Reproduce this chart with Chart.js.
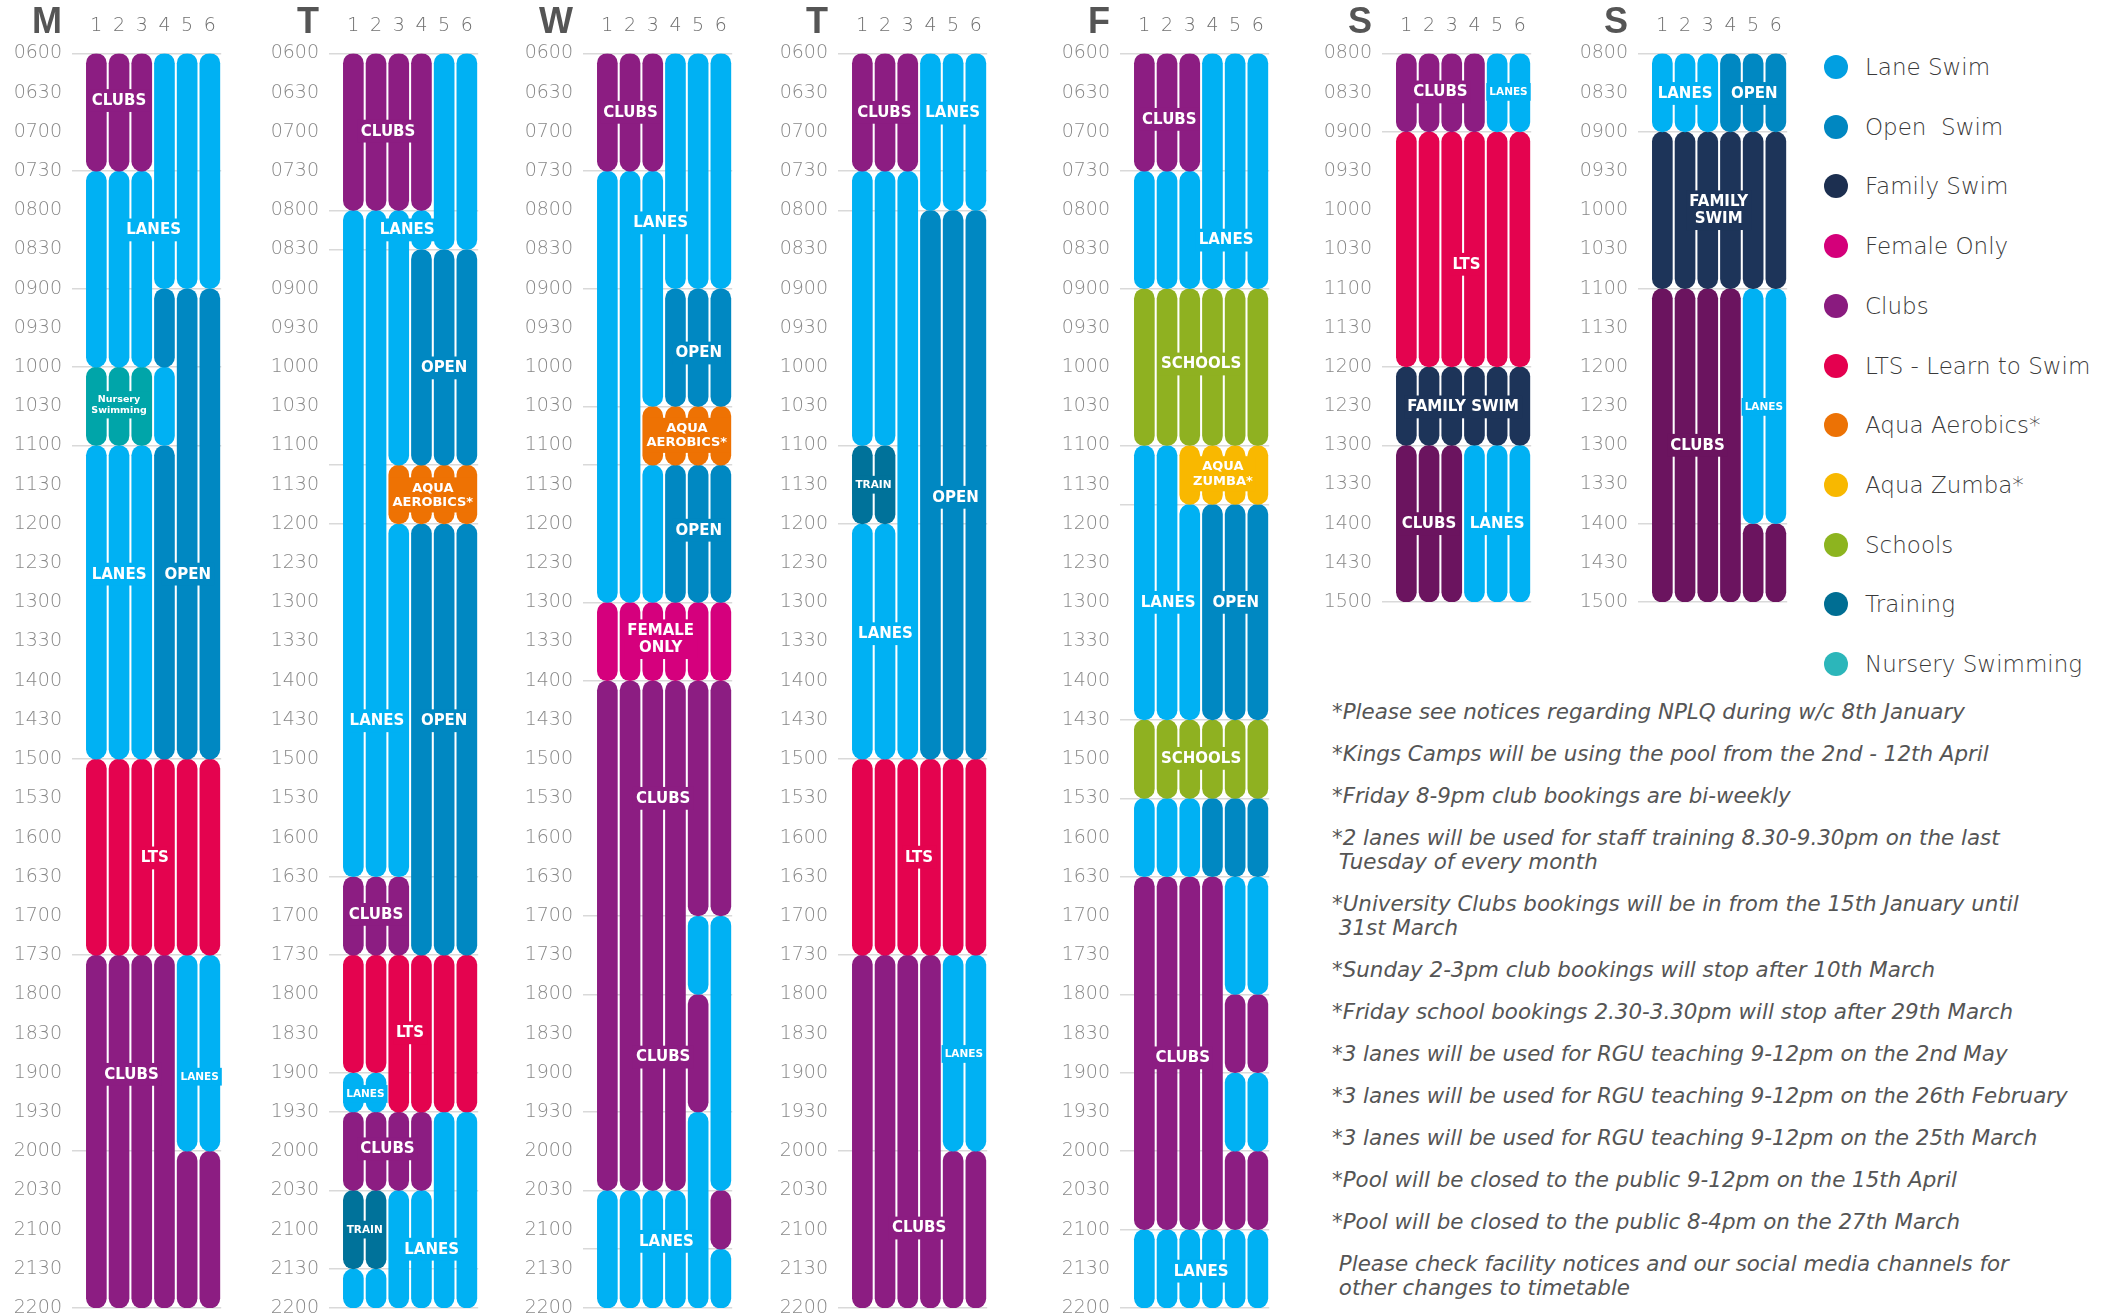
<!DOCTYPE html>
<html>
<head>
<meta charset="utf-8">
<script src="https://cdn.jsdelivr.net/npm/chart.js@4/dist/chart.umd.min.js"></script>
<style>
  body { margin: 0; background: #fff; }
  #page { position: relative; width: 2107px; height: 1314px; overflow: hidden; background: #fff; }
  canvas { position: absolute; top: 0; }
  .leg { position: absolute; left: 1824px; height: 24px; white-space: pre; }
  .leg i { position: absolute; left: 0; top: 0; width: 24px; height: 24px; border-radius: 50%; }
  .leg span { position: absolute; left: 41px; top: 12px; transform: translateY(-50%); font: 200 23px "DejaVu Sans"; color: #3a3a3a; }
  #notes { position: absolute; left: 1332px; top: 700px; font: italic 200 21.4px "DejaVu Sans"; color: #555; }
  #notes p { margin: 0 0 18px 0; line-height: 24px; white-space: pre; }
</style>
</head>
<body>
<div id="page">
  <canvas id="c0" width="220" height="1314"></canvas>
  <canvas id="c1" width="220" height="1314"></canvas>
  <canvas id="c2" width="220" height="1314"></canvas>
  <canvas id="c3" width="220" height="1314"></canvas>
  <canvas id="c4" width="220" height="1314"></canvas>
  <canvas id="c5" width="220" height="610"></canvas>
  <canvas id="c6" width="220" height="610"></canvas>
  <div id="legend"></div>
  <div id="notes"></div>
</div>
<script>
// ---- data ----
const dayNames = ['M', 'T', 'W', 'T', 'F', 'S', 'S'];
const laneNames = ['1', '2', '3', '4', '5', '6'];
const weekdayHours = [6, 22];
const weekendHours = [8, 15];

// blocks: [first lane, last lane, start hour, end hour, activity]
const monBlocks = [
    [1, 3, 6, 7.5, 'clubs'], [1, 3, 7.5, 10, 'lanes'], [1, 3, 10, 11, 'nursery'], [1, 3, 11, 15, 'lanes'],
    [4, 6, 6, 9, 'lanes'], [4, 4, 9, 10, 'open'], [4, 4, 10, 11, 'lanes'], [4, 4, 11, 15, 'open'],
    [5, 6, 9, 15, 'open'], [1, 6, 15, 17.5, 'lts'], [1, 4, 17.5, 22, 'clubs'],
    [5, 6, 17.5, 20, 'lanes'], [5, 6, 20, 22, 'clubs']
];
const tueBlocks = [
    [1, 4, 6, 8, 'clubs'], [5, 6, 6, 8.5, 'lanes'], [1, 2, 8, 16.5, 'lanes'], [3, 3, 8, 11.25, 'lanes'],
    [4, 4, 8, 8.5, 'lanes'], [4, 4, 8.5, 11.25, 'open'], [5, 6, 8.5, 11.25, 'open'], [3, 6, 11.25, 12, 'aqua'],
    [3, 3, 12, 16.5, 'lanes'], [4, 6, 12, 17.5, 'open'], [1, 3, 16.5, 17.5, 'clubs'],
    [1, 2, 17.5, 19, 'lts'], [3, 6, 17.5, 19.5, 'lts'], [1, 2, 19, 19.5, 'lanes'], [1, 4, 19.5, 20.5, 'clubs'],
    [5, 6, 19.5, 22, 'lanes'], [1, 2, 20.5, 21.5, 'train'], [1, 2, 21.5, 22, 'lanes'], [3, 4, 20.5, 22, 'lanes']
];
const wedBlocks = [
    [1, 3, 6, 7.5, 'clubs'], [4, 6, 6, 9, 'lanes'], [1, 2, 7.5, 13, 'lanes'], [3, 3, 7.5, 10.5, 'lanes'],
    [4, 6, 9, 10.5, 'open'], [3, 6, 10.5, 11.25, 'aqua'], [3, 3, 11.25, 13, 'lanes'], [4, 6, 11.25, 13, 'open'],
    [1, 6, 13, 14, 'female'], [1, 4, 14, 20.5, 'clubs'], [5, 6, 14, 17, 'clubs'],
    [5, 5, 17, 18, 'lanes'], [5, 5, 18, 19.5, 'clubs'], [5, 5, 19.5, 22, 'lanes'],
    [6, 6, 17, 20.5, 'lanes'], [6, 6, 20.5, 21.25, 'clubs'], [6, 6, 21.25, 22, 'lanes'], [1, 4, 20.5, 22, 'lanes']
];
const thuBlocks = [
    [1, 3, 6, 7.5, 'clubs'], [4, 6, 6, 8, 'lanes'], [4, 6, 8, 15, 'open'], [1, 2, 7.5, 11, 'lanes'],
    [1, 2, 11, 12, 'train'], [1, 2, 12, 15, 'lanes'], [3, 3, 7.5, 15, 'lanes'], [1, 6, 15, 17.5, 'lts'],
    [1, 4, 17.5, 22, 'clubs'], [5, 6, 17.5, 20, 'lanes'], [5, 6, 20, 22, 'clubs']
];
const friBlocks = [
    [1, 3, 6, 7.5, 'clubs'], [1, 3, 7.5, 9, 'lanes'], [4, 6, 6, 9, 'lanes'], [1, 6, 9, 11, 'schools'],
    [1, 2, 11, 14.5, 'lanes'], [3, 6, 11, 11.75, 'zumba'], [3, 3, 11.75, 14.5, 'lanes'], [4, 6, 11.75, 14.5, 'open'],
    [1, 6, 14.5, 15.5, 'schools'], [1, 3, 15.5, 16.5, 'lanes'], [4, 6, 15.5, 16.5, 'open'],
    [1, 4, 16.5, 21, 'clubs'], [5, 6, 16.5, 18, 'lanes'], [5, 6, 18, 19, 'clubs'], [5, 6, 19, 20, 'lanes'],
    [5, 6, 20, 21, 'clubs'], [1, 6, 21, 22, 'lanes']
];
const satBlocks = [
    [1, 4, 8, 9, 'clubs'], [5, 6, 8, 9, 'lanes'], [1, 6, 9, 12, 'lts'], [1, 6, 12, 13, 'family'],
    [1, 3, 13, 15, 'clubsDark'], [4, 6, 13, 15, 'lanes']
];
const sunBlocks = [
    [1, 3, 8, 9, 'lanes'], [4, 6, 8, 9, 'open'], [1, 6, 9, 11, 'family'],
    [1, 4, 11, 15, 'clubsDark'], [5, 6, 11, 14, 'lanes'], [5, 6, 14, 15, 'clubsDark']
];

// labels: [text, lane position, hour, activity, size]
const monLabels = [
    ['CLUBS', 2, 6.6, 'clubs', 'lg'], ['LANES', 3.52, 8.25, 'lanes', 'lg'],
    ['Nursery\nSwimming', 2, 10.48, 'nursery', 'xs'], ['LANES', 2, 12.64, 'lanes', 'lg'],
    ['OPEN', 5.03, 12.64, 'open', 'lg'], ['LTS', 3.57, 16.26, 'lts', 'lg'],
    ['CLUBS', 2.55, 19.02, 'clubs', 'lg'], ['LANES', 5.55, 19.05, 'lanes', 'sm']
];
const tueLabels = [
    ['CLUBS', 2.53, 6.99, 'clubs', 'lg'], ['LANES', 3.37, 8.25, 'lanes', 'lg'],
    ['OPEN', 5, 10.01, 'open', 'lg'], ['AQUA\nAEROBICS*', 4.5, 11.63, 'aqua', 'md'],
    ['LANES', 2.04, 14.51, 'lanes', 'lg'], ['OPEN', 5, 14.51, 'open', 'lg'],
    ['CLUBS', 2, 16.98, 'clubs', 'lg'], ['LTS', 3.5, 18.49, 'lts', 'lg'],
    ['LANES', 1.53, 19.27, 'lanes', 'sm'], ['CLUBS', 2.5, 19.97, 'clubs', 'lg'],
    ['TRAIN', 1.5, 21, 'train', 'sm'], ['LANES', 4.45, 21.25, 'lanes', 'lg']
];
const wedLabels = [
    ['CLUBS', 2.02, 6.75, 'clubs', 'lg'], ['LANES', 3.35, 8.16, 'lanes', 'lg'],
    ['OPEN', 5.03, 9.82, 'open', 'lg'], ['AQUA\nAEROBICS*', 4.5, 10.87, 'aqua', 'md'],
    ['OPEN', 5.03, 12.08, 'open', 'lg'], ['FEMALE\nONLY', 3.35, 13.47, 'female', 'lg'],
    ['CLUBS', 3.46, 15.5, 'clubs', 'lg'], ['CLUBS', 3.46, 18.8, 'clubs', 'lg'],
    ['LANES', 3.6, 21.15, 'lanes', 'lg']
];
const thuLabels = [
    ['CLUBS', 1.97, 6.75, 'clubs', 'lg'], ['LANES', 4.98, 6.76, 'lanes', 'lg'],
    ['TRAIN', 1.49, 11.5, 'train', 'sm'], ['OPEN', 5.1, 11.66, 'open', 'lg'],
    ['LANES', 2.02, 13.4, 'lanes', 'lg'], ['LTS', 3.5, 16.25, 'lts', 'lg'],
    ['LANES', 5.47, 18.76, 'lanes', 'sm'], ['CLUBS', 3.5, 20.98, 'clubs', 'lg']
];
const friLabels = [
    ['CLUBS', 2.1, 6.84, 'clubs', 'lg'], ['LANES', 4.6, 8.38, 'lanes', 'lg'],
    ['SCHOOLS', 3.5, 9.96, 'schools', 'lg'], ['AQUA\nZUMBA*', 4.46, 11.36, 'zumba', 'md'],
    ['LANES', 2.05, 13, 'lanes', 'lg'], ['OPEN', 5.03, 13, 'open', 'lg'],
    ['SCHOOLS', 3.5, 14.99, 'schools', 'lg'], ['CLUBS', 2.69, 18.81, 'clubs', 'lg'],
    ['LANES', 3.5, 21.53, 'lanes', 'lg']
];
const satLabels = [
    ['CLUBS', 2.5, 8.49, 'clubs', 'lg'], ['LANES', 5.5, 8.49, 'lanes', 'sm'],
    ['LTS', 3.65, 10.69, 'lts', 'lg'], ['FAMILY SWIM', 3.5, 12.51, 'family', 'lg'],
    ['CLUBS', 2, 14, 'clubsDark', 'lg'], ['LANES', 5, 14, 'lanes', 'lg']
];
const sunLabels = [
    ['LANES', 2, 8.51, 'lanes', 'lg'], ['OPEN', 5.05, 8.51, 'open', 'lg'],
    ['FAMILY\nSWIM', 3.48, 10, 'family', 'lg'], ['LANES', 5.47, 12.51, 'lanes', 'sm'],
    ['CLUBS', 2.55, 13, 'clubsDark', 'lg']
];

const legendNames = ['Lane Swim', 'Open  Swim', 'Family Swim', 'Female Only', 'Clubs', 'LTS - Learn to Swim',
    'Aqua Aerobics*', 'Aqua Zumba*', 'Schools', 'Training', 'Nursery Swimming'];

const notes = [
    '*Please see notices regarding NPLQ during w/c 8th January',
    '*Kings Camps will be using the pool from the 2nd - 12th April',
    '*Friday 8-9pm club bookings are bi-weekly',
    '*2 lanes will be used for staff training 8.30-9.30pm on the last\n Tuesday of every month',
    '*University Clubs bookings will be in from the 15th January until\n 31st March',
    '*Sunday 2-3pm club bookings will stop after 10th March',
    '*Friday school bookings 2.30-3.30pm will stop after 29th March',
    '*3 lanes will be used for RGU teaching 9-12pm on the 2nd May',
    '*3 lanes will be used for RGU teaching 9-12pm on the 26th February',
    '*3 lanes will be used for RGU teaching 9-12pm on the 25th March',
    '*Pool will be closed to the public 9-12pm on the 15th April',
    '*Pool will be closed to the public 8-4pm on the 27th March',
    ' Please check facility notices and our social media channels for\n other changes to timetable'
];

// ---- styles / layout ----
const colors = {
    lanes: '#00b1f3', open: '#0088c2', clubs: '#8c1d82', clubsDark: '#6b145f', lts: '#e4034f',
    nursery: '#00a5a9', aqua: '#ee7203', zumba: '#f9b800', schools: '#8fb121', train: '#00729a',
    family: '#1d3459', female: '#d5007d'
};
const legendColors = ['#019fe1', '#0087c1', '#1c2f50', '#d4007a', '#8a1b7f', '#e4004f',
    '#ec7205', '#f8b800', '#8db41f', '#006e93', '#2cb6ba'];
const labelFont = { lg: 15, md: 13, sm: 10.5, xs: 9.5 };
const panelLeft = [5, 262, 516, 771, 1053, 1315, 1571];
const allBlocks = [monBlocks, tueBlocks, wedBlocks, thuBlocks, friBlocks, satBlocks, sunBlocks];
const allLabels = [monLabels, tueLabels, wedLabels, thuLabels, friLabels, satLabels, sunLabels];

function hhmm(v) {
    var h = Math.floor(v), m = Math.round((v - h) * 60);
    return String(h).padStart(2, '0') + String(m).padStart(2, '0');
}

function buildDatasets(blocks) {
    var perLane = laneNames.map(function () { return []; });
    blocks.forEach(function (b) {
        for (var l = b[0]; l <= b[1]; l++) perLane[l - 1].push(b);
    });
    perLane.forEach(function (list) { list.sort(function (p, q) { return p[2] - q[2]; }); });
    var depth = Math.max.apply(null, perLane.map(function (l) { return l.length; }));
    var sets = [];
    for (var k = 0; k < depth; k++) {
        sets.push({
            data: perLane.map(function (l) { return l[k] ? [l[k][2], l[k][3]] : null; }),
            backgroundColor: perLane.map(function (l) { return l[k] ? colors[l[k][4]] : 'rgba(0,0,0,0)'; }),
            grouped: false,
            barThickness: 20,
            borderRadius: 12,
            borderSkipped: false
        });
    }
    return sets;
}

function timetablePlugin(day, labels) {
    return {
        id: 'timetable' + day,
        afterDatasetsDraw: function (chart) {
            var ctx = chart.ctx, xs = chart.scales.x, ys = chart.scales.y;
            ctx.save();
            ctx.textAlign = 'center';
            ctx.textBaseline = 'middle';
            labels.forEach(function (lb) {
                var fs = labelFont[lb[4]];
                var lines = lb[0].split('\n');
                var lh = fs * 1.12;
                ctx.font = 'bold ' + fs + 'px "DejaVu Sans"';
                var w = Math.max.apply(null, lines.map(function (t) { return ctx.measureText(t).width; }));
                var cx = xs.getPixelForValue(lb[1] - 1), cy = ys.getPixelForValue(lb[2]);
                var h = lines.length * lh;
                ctx.fillStyle = colors[lb[3]];
                ctx.fillRect(cx - w / 2 - 3, cy - h / 2 - 3, w + 6, h + 6);
                ctx.fillStyle = '#ffffff';
                lines.forEach(function (t, i) { ctx.fillText(t, cx, cy - h / 2 + lh * (i + 0.5) + 0.5); });
            });
            ctx.restore();
        },
        afterDraw: function (chart) {
            var ctx = chart.ctx;
            ctx.save();
            ctx.font = 'bold 36px "Liberation Sans"';
            ctx.fillStyle = '#555555';
            ctx.textAlign = 'right';
            ctx.textBaseline = 'alphabetic';
            ctx.fillText(dayNames[day], chart.chartArea.left - 23, 33);
            ctx.restore();
        }
    };
}

function makeDay(day) {
    var blocks = allBlocks[day];
    var hours = day >= 5 ? weekendHours : weekdayHours;
    var bounds = new Set();
    blocks.forEach(function (b) { bounds.add(b[2]); bounds.add(b[3]); });
    var cv = document.getElementById('c' + day);
    cv.style.left = panelLeft[day] + 'px';

    new Chart(cv, {
        type: 'bar',
        data: { labels: laneNames, datasets: buildDatasets(blocks) },
        options: {
            responsive: false,
            animation: false,
            events: [],
            layout: { padding: { left: 0, right: 3.8, top: 0, bottom: day >= 5 ? 8 : 6 } },
            plugins: { legend: { display: false }, tooltip: { enabled: false } },
            scales: {
                x: {
                    position: 'top',
                    grid: { display: false, drawTicks: false },
                    border: { display: false },
                    ticks: { color: '#707070', padding: 16, font: { family: 'DejaVu Sans', size: 19, weight: 200 } },
                    afterFit: function (s) { s.height = 53.5; s.paddingLeft = 0; s.paddingRight = 0; }
                },
                y: {
                    min: hours[0],
                    max: hours[1],
                    reverse: true,
                    border: { display: false },
                    grid: {
                        drawTicks: true,
                        tickLength: 13,
                        lineWidth: 1.5,
                        color: function (c) { return c.tick && bounds.has(c.tick.value) ? '#d9d9d9' : 'rgba(0,0,0,0)'; }
                    },
                    ticks: {
                        autoSkip: false,
                        padding: 10,
                        color: '#888888',
                        font: { family: 'DejaVu Sans', size: 19, weight: 200 },
                        callback: function (v) { return Number.isInteger(v * 2) ? hhmm(v) : ''; }
                    },
                    afterBuildTicks: function (s) {
                        var vals = new Set(bounds);
                        for (var t = hours[0]; t <= hours[1]; t += 0.5) vals.add(t);
                        s.ticks = Array.from(vals).sort(function (a, b) { return a - b; })
                            .map(function (v) { return { value: v }; });
                    },
                    afterFit: function (s) { s.width = 80; s.paddingTop = 0; s.paddingBottom = 0; }
                }
            }
        },
        plugins: [timetablePlugin(day, allLabels[day])]
    });
}

$ready();
function $ready() {
    try {
        for (var d = 0; d < 7; d++) makeDay(d);

        var leg = document.getElementById('legend');
        legendNames.forEach(function (name, i) {
            var el = document.createElement('div');
            el.className = 'leg';
            el.style.top = (55 + i * 59.7) + 'px';
            el.innerHTML = '<i style="background:' + legendColors[i] + '"></i><span></span>';
            el.querySelector('span').textContent = name;
            leg.appendChild(el);
        });

        var box = document.getElementById('notes');
        notes.forEach(function (n) {
            var p = document.createElement('p');
            p.textContent = n;
            box.appendChild(p);
        });
    } catch (e) {
        document.body.insertAdjacentText('beforeend', e.message);
    }
}
</script>
</body>
</html>
